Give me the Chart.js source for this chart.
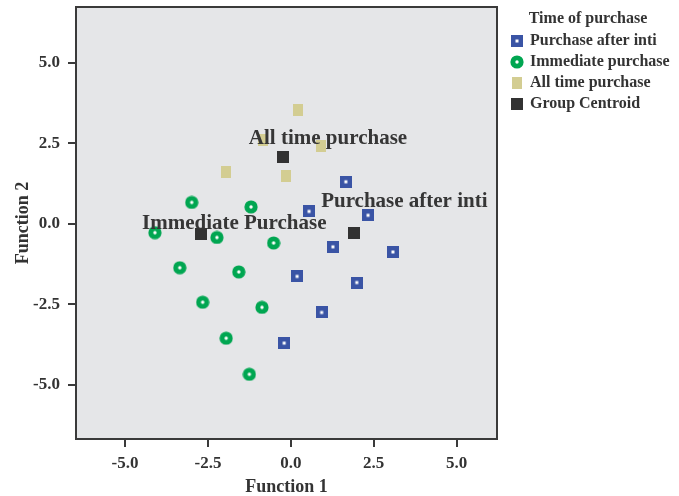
<!DOCTYPE html>
<html>
<head>
<meta charset="utf-8">
<script src="https://cdn.jsdelivr.net/npm/chart.js@4"></script>
<style>
  html, body { margin: 0; padding: 0; background: #ffffff; }
  canvas { display: block; }
</style>
</head>
<body>
<canvas id="chart" width="679" height="496"></canvas>
<script>
// Discriminant scores per case (Function 1, Function 2)
const afterX = [1.66, 0.55, 2.33, 1.27, 3.08, 0.19, 1.99, 0.93, -0.20];
const afterY = [1.30, 0.38, 0.26, -0.72, -0.88, -1.64, -1.83, -2.76, -3.71];
const immediateX = [-2.99, -1.20, -4.10, -2.23, -0.52, -3.35, -1.57, -2.66, -0.87, -1.95, -1.25];
const immediateY = [0.66, 0.52, -0.28, -0.43, -0.60, -1.37, -1.50, -2.44, -2.60, -3.56, -4.68];
const allTimeX = [0.23, -0.83, 0.92, -1.95, -0.14];
const allTimeY = [3.52, 2.59, 2.40, 1.60, 1.48];

// Group centroids, in the order: after inti, immediate, all time
const centroidX = [1.91, -2.71, -0.24];
const centroidY = [-0.29, -0.31, 2.07];
const centroidNames = ['Purchase after inti', 'Immediate Purchase', 'All time purchase'];

const seriesNames = ['Purchase after inti', 'Immediate purchase', 'All time purchase', 'Group Centroid'];
const tickValues = [-5.0, -2.5, 0.0, 2.5, 5.0];

const BLUE = '#3a54a5';
const GREEN = '#00a651';
const TAN = '#d3cd92';
const DARK = '#323232';
const TEXT = '#333333';
const SERIF = "'Liberation Serif', 'Times New Roman', serif";

function toPoints(xs, ys) {
  return xs.map((x, i) => ({ x: x, y: ys[i] }));
}

// Marker glyphs; cw = canvas width, cx = marker centre inside it
function squareDot(cw, cx) {
  const c = document.createElement('canvas');
  c.width = cw; c.height = 12;
  const g = c.getContext('2d');
  g.fillStyle = BLUE;
  g.fillRect(cx - 6, 0, 12, 12);
  g.fillStyle = '#ffffff';
  g.fillRect(cx - 1.5, 4.5, 3, 3);
  return c;
}
function ringDot(cw, cx) {
  const c = document.createElement('canvas');
  c.width = cw; c.height = 14;
  const g = c.getContext('2d');
  g.fillStyle = GREEN;
  g.beginPath(); g.arc(cx, 7, 6.6, 0, Math.PI * 2); g.fill();
  g.fillStyle = '#ffffff';
  g.beginPath(); g.arc(cx, 7, 1.7, 0, Math.PI * 2); g.fill();
  return c;
}
function plainRect(cw, cx, w, h, color) {
  const c = document.createElement('canvas');
  c.width = cw; c.height = h;
  const g = c.getContext('2d');
  g.fillStyle = color;
  g.fillRect(cx - w / 2, 0, w, h);
  return c;
}

const plotMarkers = [
  squareDot(12, 6),
  ringDot(14, 7),
  plainRect(10, 5, 10, 12, TAN),
  plainRect(12, 6, 12, 12, DARK)
];
const legendMarkers = [
  squareDot(24, 17),
  ringDot(24, 17),
  plainRect(24, 17, 10, 12, TAN),
  plainRect(24, 17, 12, 12, DARK)
];

// Plot panel: grey fill and dark frame
const panel = {
  id: 'panel',
  beforeDraw(chart) {
    const a = chart.chartArea, ctx = chart.ctx;
    ctx.save();
    ctx.fillStyle = '#e5e6e8';
    ctx.fillRect(a.left, a.top, a.right - a.left, a.bottom - a.top);
    ctx.restore();
  },
  beforeDatasetsDraw(chart) {
    const a = chart.chartArea, ctx = chart.ctx;
    ctx.save();
    ctx.strokeStyle = '#3a3a3a';
    ctx.lineWidth = 2;
    ctx.strokeRect(a.left, a.top, a.right - a.left, a.bottom - a.top);
    ctx.restore();
  }
};

// Group names written beside their centroids (pixel offsets to text start / baseline)
const labelOffsets = [[-33, -26], [-59, -5], [-34, -13]];
const centroidLabels = {
  id: 'centroidLabels',
  afterDatasetsDraw(chart) {
    const xs = chart.scales.x, ys = chart.scales.y, ctx = chart.ctx;
    ctx.save();
    ctx.font = 'bold 21px ' + SERIF;
    ctx.fillStyle = '#363636';
    ctx.textAlign = 'left';
    ctx.textBaseline = 'alphabetic';
    centroidNames.forEach((name, i) => {
      const px = xs.getPixelForValue(centroidX[i]);
      const py = ys.getPixelForValue(centroidY[i]);
      ctx.fillText(name, px + labelOffsets[i][0], py + labelOffsets[i][1]);
    });
    ctx.restore();
  }
};

const tickFont = { family: SERIF, size: 17, weight: 'bold' };
const titleFont = { family: SERIF, size: 18, weight: 'bold', lineHeight: 1 };

new Chart(document.getElementById('chart'), {
  type: 'scatter',
  data: {
    datasets: [
      { label: seriesNames[0], data: toPoints(afterX, afterY), pointStyle: plotMarkers[0], pointRadius: 6, backgroundColor: BLUE, borderColor: BLUE },
      { label: seriesNames[1], data: toPoints(immediateX, immediateY), pointStyle: plotMarkers[1], pointRadius: 6, backgroundColor: GREEN, borderColor: GREEN },
      { label: seriesNames[2], data: toPoints(allTimeX, allTimeY), pointStyle: plotMarkers[2], pointRadius: 6, backgroundColor: TAN, borderColor: TAN },
      { label: seriesNames[3], data: toPoints(centroidX, centroidY), pointStyle: plotMarkers[3], pointRadius: 6, backgroundColor: DARK, borderColor: DARK }
    ]
  },
  options: {
    responsive: false,
    animation: false,
    events: [],
    layout: { padding: { top: 5, left: 0, right: 0, bottom: 0 } },
    scales: {
      x: {
        type: 'linear',
        min: -6.48, max: 6.22,
        afterBuildTicks: s => { s.ticks = tickValues.map(v => ({ value: v })); },
        afterFit: s => { s.height = 57; s.paddingLeft = 0; s.paddingRight = 0; },
        ticks: { callback: v => Number(v).toFixed(1), font: tickFont, color: TEXT, padding: 6, maxRotation: 0 },
        grid: { drawOnChartArea: false, drawTicks: true, tickLength: 8, color: '#3a3a3a', lineWidth: 2 },
        border: { display: false },
        title: { display: true, text: 'Function 1', font: titleFont, color: TEXT, padding: { top: 0, bottom: 0 } }
      },
      y: {
        type: 'linear',
        min: -6.69, max: 6.73,
        afterBuildTicks: s => { s.ticks = tickValues.map(v => ({ value: v })); },
        afterFit: s => { s.width = 76; s.paddingTop = 0; s.paddingBottom = 0; },
        ticks: { callback: v => Number(v).toFixed(1), font: tickFont, color: TEXT, padding: 8 },
        grid: { drawOnChartArea: false, drawTicks: true, tickLength: 8, color: '#3a3a3a', lineWidth: 2 },
        border: { display: false },
        title: { display: true, text: 'Function 2', font: titleFont, color: TEXT, padding: { top: 14, bottom: 0 } }
      }
    },
    plugins: {
      tooltip: { enabled: false },
      legend: {
        position: 'right',
        align: 'start',
        maxWidth: 182,
        title: {
          display: true,
          text: 'Time of purchase',
          position: 'center',
          color: TEXT,
          font: { family: SERIF, size: 16, weight: 'bold', lineHeight: 1 },
          padding: { top: 6, bottom: 1 }
        },
        labels: {
          usePointStyle: true,
          pointStyleWidth: 20,
          padding: 5,
          color: TEXT,
          font: { family: SERIF, size: 16, weight: 'bold' },
          generateLabels(chart) {
            const items = Chart.defaults.plugins.legend.labels.generateLabels(chart);
            items.forEach((it, i) => { it.pointStyle = legendMarkers[i]; });
            return items;
          }
        }
      }
    }
  },
  plugins: [panel, centroidLabels]
});
</script>
</body>
</html>
